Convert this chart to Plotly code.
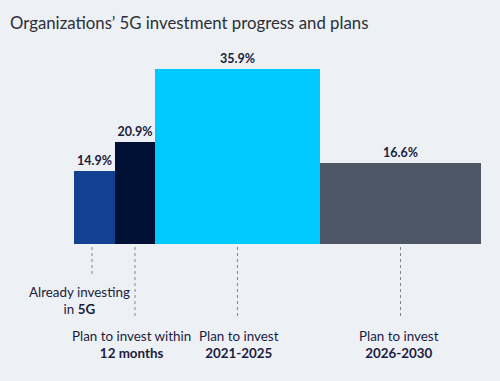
import plotly.graph_objects as go

# ---- data ----
categories = ["Already investing in 5G", "Plan to invest within 12 months",
              "Plan to invest 2021-2025", "Plan to invest 2026-2030"]
values = [14.9, 20.9, 35.9, 16.6]
label_line1 = ["Already investing", "Plan to invest within", "Plan to invest", "Plan to invest"]
label_line2 = ["in <b>5G</b>", "<b>12 months</b>", "<b>2021-2025</b>", "<b>2026-2030</b>"]

# ---- style / layout ----
colors = ["#124191", "#001135", "#00C9FF", "#4E5766"]
x_left = [74, 115, 155, 320]
widths = [41, 40, 165, 161]
centers = [l + w / 2 for l, w in zip(x_left, widths)]

W, H = 500, 381
base_px, top_px = 244, 69
scale = (base_px - top_px) / 35.9
def py(p):
    return (base_px - p) / scale

bg = "#EDF1F5"
fontfam = "Lato, 'Noto Sans', sans-serif"

fig = go.Figure(go.Bar(
    x=centers, y=values, width=widths,
    marker=dict(color=colors, line=dict(width=0)),
    text=[f"{v:.1f}%" for v in values],
    texttemplate="%{text}", textposition="outside", constraintext="none",
    cliponaxis=False,
    textfont=dict(family=fontfam, size=12.5, color="#1a2140", weight="bold"),
    hoverinfo="skip",
))

line_ends = [276, 316, 316, 316]
line_x = [92, centers[1], centers[2], centers[3]]
label_x = [79, 131, 239, 399]
label_y = [300, 344, 344, 344]
shapes = []
for lx, le in zip(line_x, line_ends):
    shapes.append(dict(type="line", xref="x", yref="y", x0=lx, x1=lx,
                       y0=py(247), y1=py(le),
                       line=dict(color="#7d8794", width=1, dash="dot")))
annotations = []
for lxx, ly, l1, l2 in zip(label_x, label_y, label_line1, label_line2):
    annotations.append(dict(x=lxx, y=py(ly), xref="x", yref="y",
                            text=f"{l1}<br>{l2}", showarrow=False,
                            font=dict(family=fontfam, size=13.4, color="#1a2140"),
                            align="center", xanchor="center", yanchor="middle"))
annotations.append(dict(x=8, y=py(22), xref="x", yref="y", xanchor="left", yanchor="middle",
                        text="Organizations’ 5G investment progress and plans", showarrow=False,
                        font=dict(family=fontfam, size=16.8, color="#2b2f38")))

fig.update_layout(
    width=W, height=H, margin=dict(l=0, r=0, t=0, b=0),
    paper_bgcolor=bg, plot_bgcolor=bg, showlegend=False,
    xaxis=dict(range=[0, W], visible=False, fixedrange=True),
    yaxis=dict(range=[py(H), py(0)], visible=False, fixedrange=True),
    shapes=shapes, annotations=annotations, bargap=0,
)

fig.write_html("out.html", config={"displayModeBar": False},
               post_script="document.body.style.margin='0';document.body.style.background='%s';" % bg)
